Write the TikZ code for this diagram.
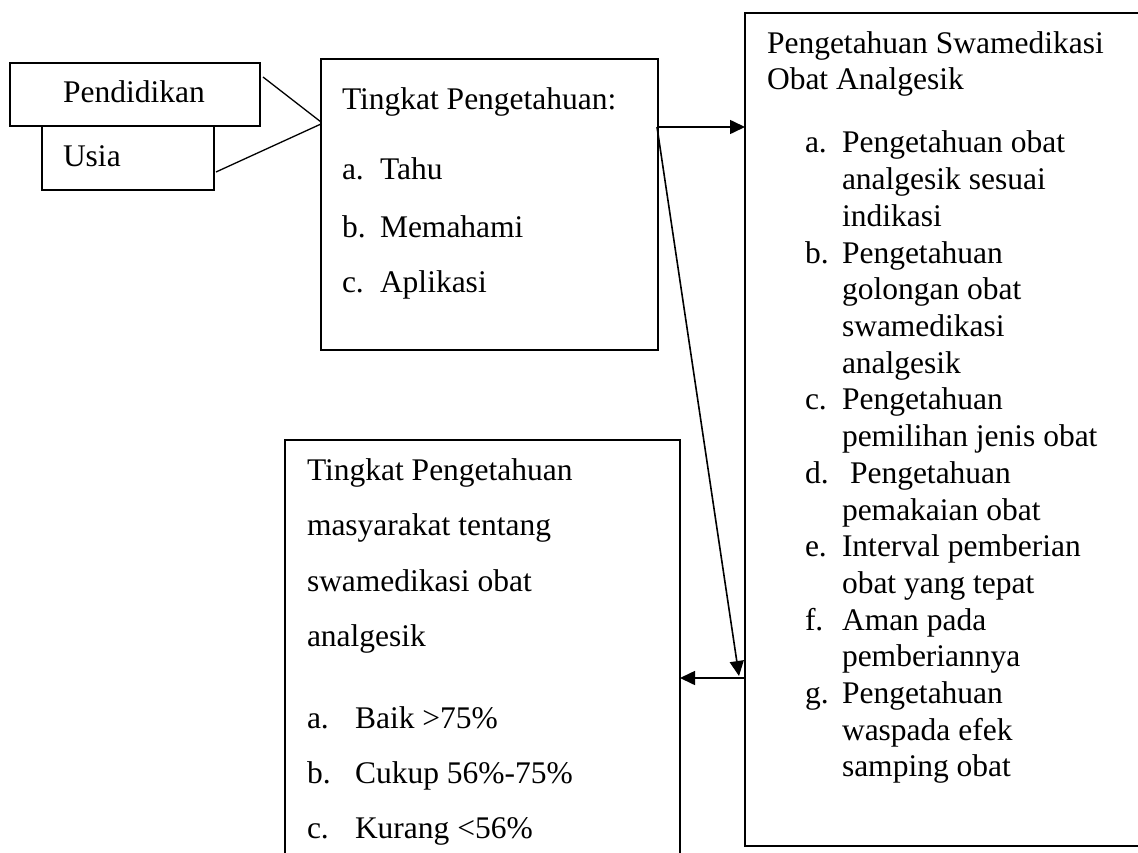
\documentclass[tikz,border=0pt]{standalone}
\usepackage{fontspec}
\setmainfont{Liberation Serif}
\usetikzlibrary{arrows.meta}
\tikzset{
  boxstyle/.style={draw=black, line width=2.2pt, inner sep=0pt, outer sep=0pt, anchor=north west},
  txt/.style={anchor=base west, inner sep=0pt, outer sep=0pt, font=\fontsize{31.5}{36.7}\selectfont},
  thinline/.style={draw=black, line width=1.3pt},
  arr/.style={draw=black, line width=1.6pt, -{Triangle[length=15pt, width=14pt]}},
}
\begin{document}
\begin{tikzpicture}[x=1pt, y=-1pt]
\useasboundingbox (0,0) rectangle (1138,853);
\clip (0,0) rectangle (1138,853);
\fill[white] (0,0) rectangle (1138,853);

% boxes
\node[boxstyle, minimum width=250pt, minimum height=63pt] (pend) at (10,63) {};
\node[boxstyle, minimum width=172pt, minimum height=64pt] (usia) at (42,126) {};
\node[boxstyle, minimum width=337pt, minimum height=291pt] (ting) at (321,59) {};
\node[boxstyle, minimum width=410pt, minimum height=833pt] (rbox) at (745,13) {};
\node[boxstyle, minimum width=395pt, minimum height=430pt] (bbox) at (285,440) {};

% left texts
\node[txt] (tpend) at (63,103) {Pendidikan};
\node[txt] (tusia) at (63,167) {Usia};

% Tingkat box texts
\node[txt] (tt0) at (342,110) {Tingkat Pengetahuan:};
\node[txt] (tta) at (342,180) {a.};
\node[txt] (ttat) at (380,180) {Tahu};
\node[txt] (ttb) at (342,237) {b.};
\node[txt] (ttbt) at (380,237) {Memahami};
\node[txt] (ttc) at (342,292) {c.};
\node[txt] (ttct) at (380,292) {Aplikasi};

% right box texts
\node[txt] (r0) at (767,54) {Pengetahuan Swamedikasi};
\node[txt] (r1) at (767,90) {Obat Analgesik};
\node[txt] (la) at (805,153.0) {a.};
\node[txt] (ra1) at (842,153.0) {Pengetahuan obat};
\node[txt] (ra2) at (842,189.7) {analgesik sesuai};
\node[txt] (ra3) at (842,226.4) {indikasi};
\node[txt] (lb) at (805,263.1) {b.};
\node[txt] (rb1) at (842,263.1) {Pengetahuan};
\node[txt] (rb2) at (842,299.8) {golongan obat};
\node[txt] (rb3) at (842,336.5) {swamedikasi};
\node[txt] (rb4) at (842,373.2) {analgesik};
\node[txt] (lc) at (805,409.9) {c.};
\node[txt] (rc1) at (842,409.9) {Pengetahuan};
\node[txt] (rc2) at (842,446.6) {pemilihan jenis obat};
\node[txt] (ld) at (805,483.3) {d.};
\node[txt] (rd1) at (850,483.3) {Pengetahuan};
\node[txt] (rd2) at (842,520.0) {pemakaian obat};
\node[txt] (le) at (805,556.7) {e.};
\node[txt] (re1) at (842,556.7) {Interval pemberian};
\node[txt] (re2) at (842,593.4) {obat yang tepat};
\node[txt] (lf) at (805,630.1) {f.};
\node[txt] (rf1) at (842,630.1) {Aman pada};
\node[txt] (rf2) at (842,666.8) {pemberiannya};
\node[txt] (lg) at (805,703.5) {g.};
\node[txt] (rg1) at (842,703.5) {Pengetahuan};
\node[txt] (rg2) at (842,740.2) {waspada efek};
\node[txt] (rg3) at (842,776.9) {samping obat};

% bottom box texts
\node[txt] (b0) at (307,480) {Tingkat Pengetahuan};
\node[txt] (b1) at (307,535) {masyarakat tentang};
\node[txt] (b2) at (307,591) {swamedikasi obat};
\node[txt] (b3) at (307,646) {analgesik};
\node[txt] (bla) at (307,728) {a.};
\node[txt] (bta) at (355,728) {Baik >75\%};
\node[txt] (blb) at (307,783) {b.};
\node[txt] (btb) at (355,783) {Cukup 56\%-75\%};
\node[txt] (blc) at (307,838) {c.};
\node[txt] (btc) at (355,838) {Kurang <56\%};

% connector points
\coordinate (pendout) at (263,77);
\coordinate (tin1) at (321,122);
\coordinate (usiaout) at (216,172);
\coordinate (tin2) at (321,124);
\coordinate (tout) at (657,127);
\coordinate (diagend) at (739,676);
\coordinate (backy) at (745,678);

\draw[thinline] (pendout) -- (tin1);
\draw[thinline] (usiaout) -- (tin2);
\draw[arr] (tout) -- (rbox.west |- tout);
\draw[arr] (tout) -- (diagend);
\draw[arr] (backy) -- (bbox.east |- backy);
\end{tikzpicture}
\end{document}
